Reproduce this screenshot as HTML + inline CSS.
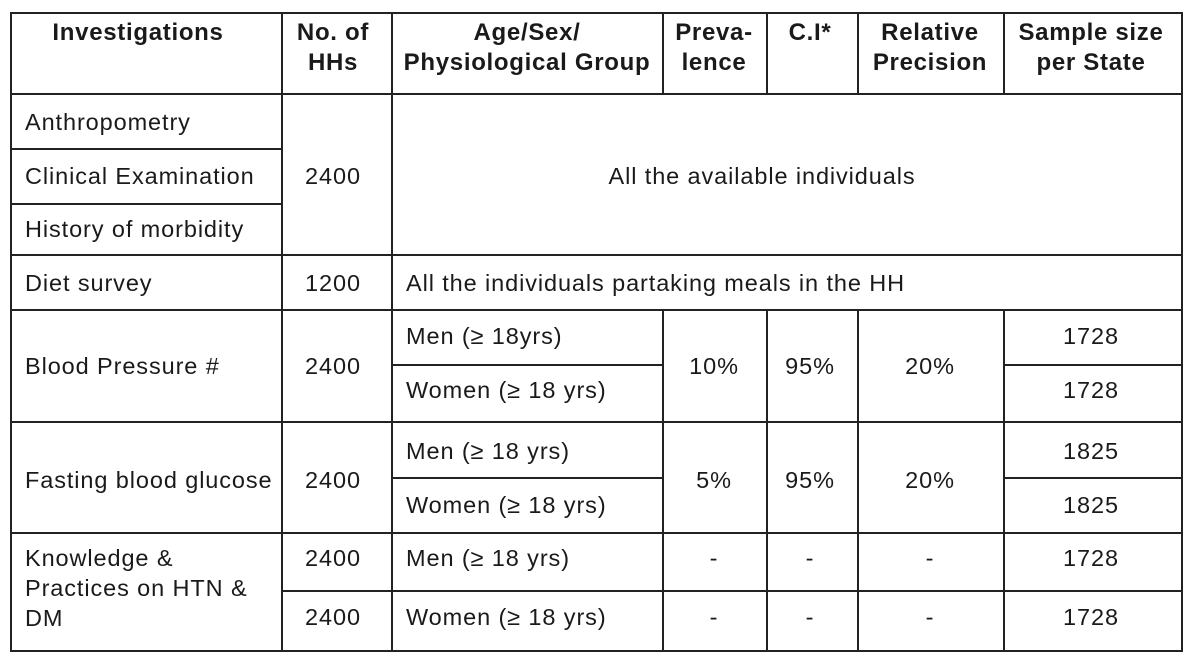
<!DOCTYPE html>
<html><head><style>
body{margin:0;width:1193px;height:665px;background:#fff;position:relative;overflow:hidden;font-family:"Liberation Sans",Arial,sans-serif;color:#1a1a1a}
.h{position:absolute;background:#222;height:1.5px}
.v{position:absolute;background:#222;width:1.5px}
.t{position:absolute;font-size:23.5px;letter-spacing:0.9px;white-space:nowrap;line-height:30px}
.c{transform:translateX(-50%);text-align:center}
.b{font-weight:bold;letter-spacing:0.7px;font-size:24px}
</style></head><body>
<div class="h" style="left:10px;top:12px;width:1172px"></div>
<div class="h" style="left:10px;top:93px;width:1172px"></div>
<div class="h" style="left:10px;top:148px;width:272px"></div>
<div class="h" style="left:10px;top:203px;width:272px"></div>
<div class="h" style="left:10px;top:254px;width:1172px"></div>
<div class="h" style="left:10px;top:309px;width:1172px"></div>
<div class="h" style="left:391px;top:364px;width:272px"></div>
<div class="h" style="left:1003px;top:364px;width:179px"></div>
<div class="h" style="left:10px;top:421px;width:1172px"></div>
<div class="h" style="left:391px;top:477px;width:272px"></div>
<div class="h" style="left:1003px;top:477px;width:179px"></div>
<div class="h" style="left:10px;top:532px;width:1172px"></div>
<div class="h" style="left:282px;top:590px;width:900px"></div>
<div class="h" style="left:10px;top:650px;width:1173px"></div>
<div class="v" style="left:10px;top:12px;height:639px"></div>
<div class="v" style="left:281px;top:12px;height:639px"></div>
<div class="v" style="left:391px;top:12px;height:639px"></div>
<div class="v" style="left:662px;top:12px;height:82px"></div>
<div class="v" style="left:766px;top:12px;height:82px"></div>
<div class="v" style="left:857px;top:12px;height:82px"></div>
<div class="v" style="left:1003px;top:12px;height:82px"></div>
<div class="v" style="left:662px;top:309px;height:342px"></div>
<div class="v" style="left:766px;top:309px;height:342px"></div>
<div class="v" style="left:857px;top:309px;height:342px"></div>
<div class="v" style="left:1003px;top:309px;height:342px"></div>
<div class="v" style="left:1181px;top:12px;height:639px"></div>
<div class="t b c" style="left:138px;top:18px">Investigations</div>
<div class="t b c" style="left:333px;top:18px">No. of<br>HHs</div>
<div class="t b c" style="left:527px;top:18px">Age/Sex/<br>Physiological Group</div>
<div class="t b c" style="left:714px;top:18px">Preva-<br>lence</div>
<div class="t b c" style="left:810px;top:18px">C.I*</div>
<div class="t b c" style="left:930px;top:18px">Relative<br>Precision</div>
<div class="t b c" style="left:1091px;top:18px">Sample size<br>per State</div>
<div class="t" style="left:25px;top:107px">Anthropometry</div>
<div class="t" style="left:25px;top:161px">Clinical Examination</div>
<div class="t" style="left:25px;top:214px">History of morbidity</div>
<div class="t c" style="left:333px;top:161px">2400</div>
<div class="t c" style="left:762px;top:161px">All the available individuals</div>
<div class="t" style="left:25px;top:268px">Diet survey</div>
<div class="t c" style="left:333px;top:268px">1200</div>
<div class="t" style="left:406px;top:268px">All the individuals partaking meals in the HH</div>
<div class="t" style="left:25px;top:351px">Blood Pressure #</div>
<div class="t c" style="left:333px;top:351px">2400</div>
<div class="t" style="left:406px;top:321px">Men (≥ 18yrs)</div>
<div class="t" style="left:406px;top:375px">Women (≥ 18 yrs)</div>
<div class="t c" style="left:714px;top:351px">10%</div>
<div class="t c" style="left:810px;top:351px">95%</div>
<div class="t c" style="left:930px;top:351px">20%</div>
<div class="t c" style="left:1091px;top:321px">1728</div>
<div class="t c" style="left:1091px;top:375px">1728</div>
<div class="t" style="left:25px;top:465px">Fasting blood glucose</div>
<div class="t c" style="left:333px;top:465px">2400</div>
<div class="t" style="left:406px;top:436px">Men (≥ 18 yrs)</div>
<div class="t" style="left:406px;top:490px">Women (≥ 18 yrs)</div>
<div class="t c" style="left:714px;top:465px">5%</div>
<div class="t c" style="left:810px;top:465px">95%</div>
<div class="t c" style="left:930px;top:465px">20%</div>
<div class="t c" style="left:1091px;top:436px">1825</div>
<div class="t c" style="left:1091px;top:490px">1825</div>
<div class="t" style="left:25px;top:543px">Knowledge &amp;<br>Practices on HTN &amp;<br>DM</div>
<div class="t c" style="left:333px;top:543px">2400</div>
<div class="t c" style="left:333px;top:602px">2400</div>
<div class="t" style="left:406px;top:543px">Men (≥ 18 yrs)</div>
<div class="t" style="left:406px;top:602px">Women (≥ 18 yrs)</div>
<div class="t c" style="left:714px;top:543px">-</div>
<div class="t c" style="left:810px;top:543px">-</div>
<div class="t c" style="left:930px;top:543px">-</div>
<div class="t c" style="left:1091px;top:543px">1728</div>
<div class="t c" style="left:714px;top:602px">-</div>
<div class="t c" style="left:810px;top:602px">-</div>
<div class="t c" style="left:930px;top:602px">-</div>
<div class="t c" style="left:1091px;top:602px">1728</div>
</body></html>
